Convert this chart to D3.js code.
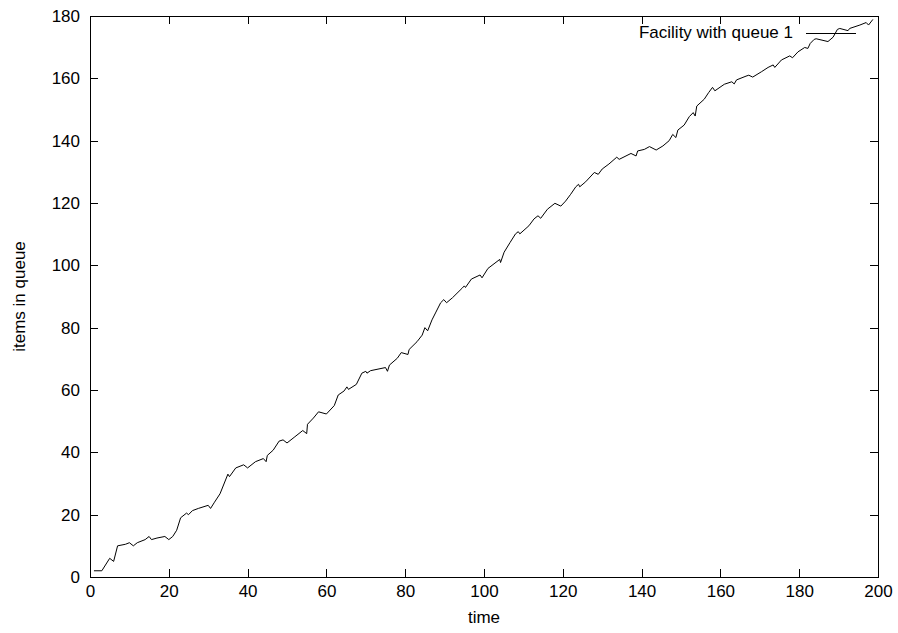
<!DOCTYPE html>
<html>
<head>
<meta charset="utf-8">
<script src="https://cdn.jsdelivr.net/npm/d3@7"></script>
<style>
  body { margin: 0; background: #fff; }
  text { font-family: "Liberation Sans", Arial, sans-serif; }
</style>
</head>
<body>
<div id="chart"></div>
<script>
// values
var times = [1, 3, 5, 6, 7, 9, 10, 11, 12, 14, 15, 15.6, 17, 19, 20, 21, 22, 23, 24.5, 25,
    26, 27.5, 30, 30.6, 31.6, 33, 35, 35.4, 37, 39, 40, 42, 44, 44.7, 45, 46.5, 48, 49, 50, 52,
    54, 55, 55.2, 56.7, 58, 60, 62, 63, 64.5, 65.2, 65.6, 67.6, 69, 70, 70.3, 71.2, 75, 75.5, 76, 78,
    79, 80.7, 81, 83, 84.3, 85, 85.7, 86.8, 87.8, 89, 89.8, 90.5, 92, 94.4, 95, 95.3, 96.8, 99, 99.5, 101,
    104, 104.2, 105.1, 106.6, 108, 108.7, 109.1, 111.4, 112.7, 113.7, 114.4, 116.1, 118, 119.5, 120.7, 122, 123.3, 124, 124.3, 125.8,
    128, 129, 130, 131.7, 133.7, 134.3, 137.3, 138.6, 139, 140.7, 142, 143.7, 145.4, 147, 147.9, 148.7, 149.2, 150.8,
    152.1, 153.1, 153.6, 154, 155.9, 157, 158, 158.6, 161, 162.9, 163.5, 164.1, 166.5, 167.2, 168.2, 170.4, 172.1, 173.4,
    173.8, 175.5, 177.6, 178.3, 179.7, 181.4, 182.2, 182.8, 183.8, 184.3, 187.3, 188.6, 189.7, 190.3, 192.4, 192.8, 195.4, 197,
    197.6, 198.7];
var queue = [2, 2, 6, 5, 10, 10.5, 11, 10, 11, 12, 13, 12, 12.5, 13, 12, 13, 15, 19, 20.5, 20,
    21.3, 22, 23, 22, 24, 26.7, 33, 32.2, 35, 36, 35, 37, 38, 37, 39, 40.7, 43.6, 44, 43, 45,
    47, 46, 49, 51, 53, 52.3, 55, 58.4, 59.7, 61, 60.2, 61.8, 65.4, 66, 65.4, 66.2, 67.2, 66, 68, 70.2,
    72, 71.4, 73, 75.5, 77.6, 80, 79, 82.5, 85, 88, 89, 88, 89.6, 92.6, 93.4, 92.9, 95.6, 96.9, 96, 99,
    101.9, 100.9, 104.2, 107.3, 110.1, 110.8, 110.1, 112.7, 114.9, 115.9, 115.1, 118, 119.9, 119, 120.6, 122.8, 125.2, 126, 125.2, 126.8,
    129.8, 129.2, 130.9, 132.5, 134.7, 134, 135.9, 135.1, 136.7, 137.2, 138.1, 137, 138.3, 140, 142, 141, 143.4, 145,
    147.7, 149, 147.9, 151.1, 153.3, 155.4, 157.1, 156, 158.1, 158.9, 158.2, 159.5, 160.7, 161, 160.4, 162.1, 163.5, 164.3,
    163.5, 165.9, 167.2, 166.6, 168.5, 169.9, 169.6, 171.2, 172.5, 172.7, 171.8, 173.2, 175.7, 176, 175.3, 176, 177.1, 177.9,
    177.1, 178.9];
var xTicks = [0, 20, 40, 60, 80, 100, 120, 140, 160, 180, 200];
var yTicks = [0, 20, 40, 60, 80, 100, 120, 140, 160, 180];
var seriesName = "Facility with queue 1";

var data = times.map(function(t, i) { return {t: t, v: queue[i]}; });

var margin = {top: 16, right: 20, bottom: 56, left: 90},
    width = 898 - margin.left - margin.right,
    height = 633 - margin.top - margin.bottom;

var fontSize = "17px";

var svg = d3.select("#chart")
    .append("svg")
    .attr("width", 898)
    .attr("height", 633)
    .append("g")
    .attr("transform", "translate(" + margin.left + "," + margin.top + ")");

var x = d3.scaleLinear().domain([0, 200]).range([0, width]);
var y = d3.scaleLinear().domain([0, 180]).range([height, 0]);

// inward ticks on all four sides, gnuplot style
var tickLen = 8;
function styleAxis(g) {
    g.select(".domain").remove();
    g.selectAll("line").attr("stroke", "#000").attr("shape-rendering", "crispEdges");
    g.selectAll("text").style("font-size", fontSize).attr("fill", "#000");
}

svg.append("g")
    .attr("transform", "translate(0," + height + ")")
    .call(d3.axisBottom(x).tickValues(xTicks).tickSizeInner(-tickLen).tickSizeOuter(0).tickPadding(8))
    .call(styleAxis);

svg.append("g")
    .call(d3.axisTop(x).tickValues(xTicks).tickSizeInner(-tickLen).tickSizeOuter(0).tickFormat(""))
    .call(styleAxis);

svg.append("g")
    .call(d3.axisLeft(y).tickValues(yTicks).tickSizeInner(-tickLen).tickSizeOuter(0).tickPadding(10))
    .call(styleAxis);

svg.append("g")
    .attr("transform", "translate(" + width + ",0)")
    .call(d3.axisRight(y).tickValues(yTicks).tickSizeInner(-tickLen).tickSizeOuter(0).tickFormat(""))
    .call(styleAxis);

// border
svg.append("rect")
    .attr("x", 0)
    .attr("y", 0)
    .attr("width", width)
    .attr("height", height)
    .attr("fill", "none")
    .attr("stroke", "#000")
    .attr("shape-rendering", "crispEdges");

// the line
var line = d3.line()
    .x(function(d) { return x(d.t); })
    .y(function(d) { return y(d.v); });

svg.append("path")
    .datum(data)
    .attr("d", line)
    .attr("fill", "none")
    .attr("stroke", "#000")
    .attr("stroke-width", 1);

// legend
svg.append("text")
    .attr("x", 703)
    .attr("y", 22)
    .style("text-anchor", "end")
    .style("font-size", fontSize)
    .text(seriesName);
svg.append("line")
    .attr("x1", 716)
    .attr("x2", 766)
    .attr("y1", 17)
    .attr("y2", 17)
    .attr("stroke", "#000")
    .attr("shape-rendering", "crispEdges");

// axis titles
svg.append("text")
    .attr("x", width / 2)
    .attr("y", height + 46)
    .style("text-anchor", "middle")
    .style("font-size", fontSize)
    .text("time");

svg.append("text")
    .attr("transform", "translate(" + (-65) + "," + (height / 2) + ") rotate(-90)")
    .style("text-anchor", "middle")
    .style("font-size", fontSize)
    .text("items in queue");
</script>
</body>
</html>
